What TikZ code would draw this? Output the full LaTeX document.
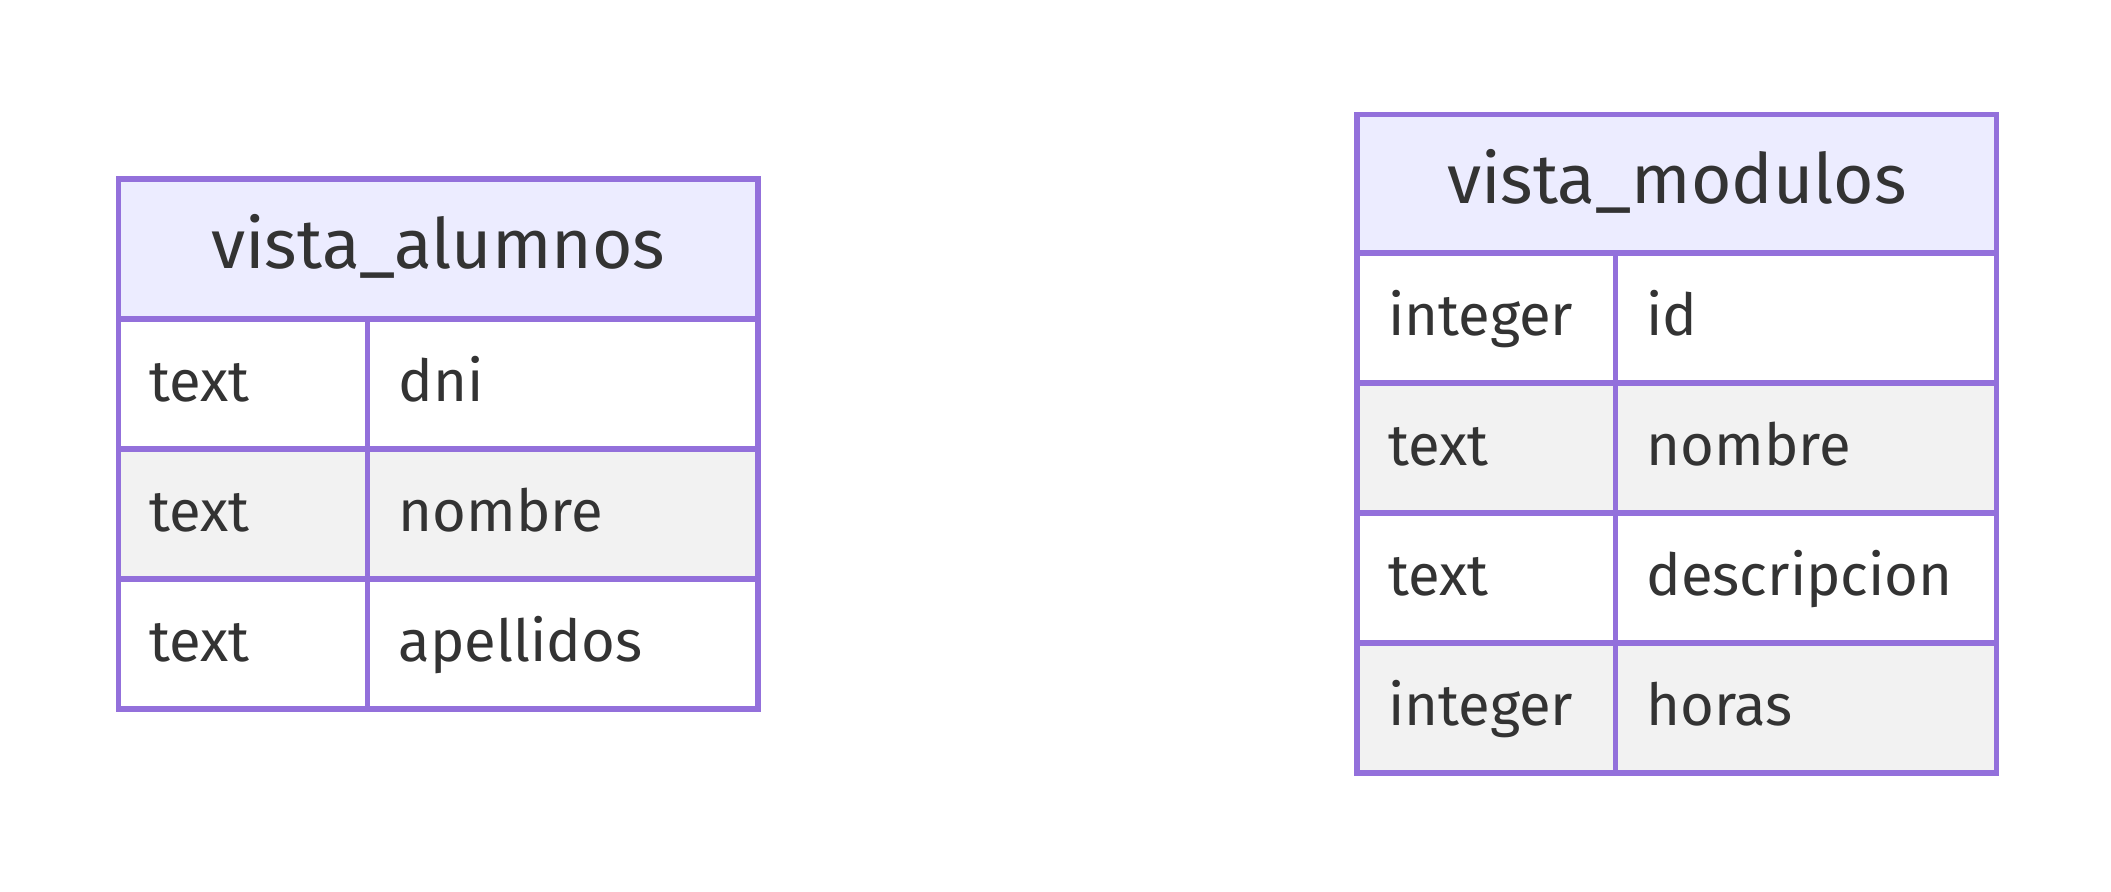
\documentclass[tikz,border=0pt]{standalone}
\usepackage{fontspec}
\setmainfont{Fira Sans}
\usepackage{xcolor}
\usepackage{tikz}
\usetikzlibrary{positioning}

\definecolor{edge}{HTML}{9370DB}
\definecolor{headfill}{HTML}{ECECFF}
\definecolor{oddfill}{HTML}{F2F2F2}
\definecolor{ink}{HTML}{333333}

\begin{document}
\begin{tikzpicture}[
  x=0.5pt, y=-0.5pt,
  head/.style  = {draw=edge, line width=2.6pt, fill=headfill, outer sep=0pt,
                  anchor=north west, text=ink, font=\fontsize{34.7pt}{40pt}\selectfont,
                  text height=20pt, text depth=0pt, minimum width=319.75pt},
  cell/.style  = {draw=edge, line width=2.6pt, fill=white, outer sep=0pt,
                  anchor=north west, inner xsep=15.5pt, align=left, text=ink,
                  font=\fontsize{29pt}{34pt}\selectfont,
                  text height=17.5pt, text depth=0pt, minimum height=65pt},
  grey/.style  = {fill=oddfill},
]
\useasboundingbox (0,0) rectangle (2111,892);

% vista_alumnos
\node[head, minimum height=70pt] (alu) at (118.5,179) {vista\_alumnos};
\node[cell, text width=93.5pt] (alu1t) at (alu.south west) {text};
\node[cell, text width=164.25pt] (alu1n) at (alu1t.north east) {dni};
\node[cell, grey, text width=93.5pt] (alu2t) at (alu1t.south west) {text};
\node[cell, grey, text width=164.25pt] (alu2n) at (alu2t.north east) {nombre};
\node[cell, text width=93.5pt] (alu3t) at (alu2t.south west) {text};
\node[cell, text width=164.25pt] (alu3n) at (alu3t.north east) {apellidos};

% vista_modulos
\node[head, minimum height=69.25pt] (mod) at (1357,114.5) {vista\_modulos};
\node[cell, text width=98.25pt] (mod1t) at (mod.south west) {integer};
\node[cell, text width=159.5pt] (mod1n) at (mod1t.north east) {id};
\node[cell, grey, text width=98.25pt] (mod2t) at (mod1t.south west) {text};
\node[cell, grey, text width=159.5pt] (mod2n) at (mod2t.north east) {nombre};
\node[cell, text width=98.25pt] (mod3t) at (mod2t.south west) {text};
\node[cell, text width=159.5pt] (mod3n) at (mod3t.north east) {descripcion};
\node[cell, grey, text width=98.25pt] (mod4t) at (mod3t.south west) {integer};
\node[cell, grey, text width=159.5pt] (mod4n) at (mod4t.north east) {horas};

\end{tikzpicture}
\end{document}
